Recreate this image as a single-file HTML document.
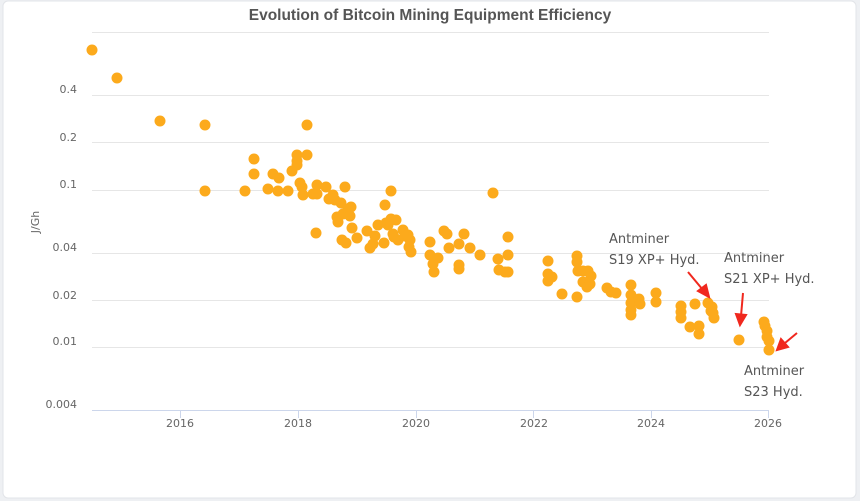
<!DOCTYPE html>
<html><head><meta charset="utf-8"><style>
html,body{margin:0;padding:0;background:#f3f4f6;}
svg{display:block;}
text{font-family:"DejaVu Sans","Liberation Sans",sans-serif;}
</style></head><body>
<svg width="860" height="501" viewBox="0 0 860 501">
<rect x="0" y="0" width="860" height="501" fill="#eef0f3"/>
<rect x="3" y="1" width="853" height="497" rx="5" fill="#fff" stroke="#e2e4e8"/>
<text x="430" y="20" text-anchor="middle" font-size="15.5" font-weight="bold" fill="#555" style="font-family:'Liberation Sans',sans-serif">Evolution of Bitcoin Mining Equipment Efficiency</text>
<g stroke="#e6e6e6" stroke-width="1">
<line x1="92" x2="769" y1="32.5" y2="32.5"/>
<line x1="92" x2="769" y1="95.5" y2="95.5"/>
<line x1="92" x2="769" y1="142.5" y2="142.5"/>
<line x1="92" x2="769" y1="190.5" y2="190.5"/>
<line x1="92" x2="769" y1="253.5" y2="253.5"/>
<line x1="92" x2="769" y1="300.5" y2="300.5"/>
<line x1="92" x2="769" y1="347.5" y2="347.5"/>
</g>
<line x1="92" x2="769" y1="410.5" y2="410.5" stroke="#ccd6eb"/>
<g stroke="#ccd6eb"><line x1="180.5" x2="180.5" y1="410" y2="418"/><line x1="298.5" x2="298.5" y1="410" y2="418"/><line x1="416.5" x2="416.5" y1="410" y2="418"/><line x1="533.5" x2="533.5" y1="410" y2="418"/><line x1="651.5" x2="651.5" y1="410" y2="418"/><line x1="768.5" x2="768.5" y1="410" y2="418"/></g>
<g font-size="11" fill="#666" text-anchor="end">
<text x="77" y="93">0.4</text><text x="77" y="141">0.2</text><text x="77" y="188">0.1</text>
<text x="77" y="251">0.04</text><text x="77" y="299">0.02</text><text x="77" y="345">0.01</text><text x="77" y="408">0.004</text>
</g>
<g font-size="11" fill="#666" text-anchor="middle">
<text x="180" y="427">2016</text><text x="298" y="427">2018</text><text x="416" y="427">2020</text>
<text x="534" y="427">2022</text><text x="651" y="427">2024</text><text x="768" y="427">2026</text>
</g>
<text transform="translate(39,222) rotate(-90)" font-size="11" fill="#666" text-anchor="middle">J/Gh</text>
<g fill="#fcaa1c" id="d"></g>
<g font-size="13" fill="#555">
<text x="609" y="243">Antminer</text><text x="609" y="264">S19 XP+ Hyd.</text>
<text x="724" y="262">Antminer</text><text x="724" y="283">S21 XP+ Hyd.</text>
<text x="744" y="375">Antminer</text><text x="744" y="396">S23 Hyd.</text>
</g>
<g stroke="#f0281e" stroke-width="2" fill="#f0281e">
<line x1="688" y1="272" x2="703" y2="290"/><polygon points="709,297 698,291 706,285"/>
<line x1="743" y1="293" x2="741" y2="316"/><polygon points="740,325 736,314 746,315"/>
<line x1="797" y1="333" x2="785" y2="343"/><polygon points="777,350 781,339 788,347"/>
</g>
</svg>
<script>
var p=[[92,50],[117,78],[160,121],[205,125],[307,125],[205,191],[245,191],[254,159],[254,174],[268,189],[273,174],[279,178],[278,191],[288,191],[292,171],[297,155],[297,165],[297,161],[300,183],[302,187],[307,155],[303,195],[313,194],[317,185],[317,194],[316,233],[326,187],[329,199],[333,195],[335,200],[337,217],[338,222],[341,203],[342,240],[343,214],[346,243],[345,187],[348,209],[350,216],[351,207],[352,228],[357,238],[367,231],[370,248],[373,244],[375,236],[378,225],[384,243],[385,205],[386,223],[388,225],[391,191],[391,219],[393,234],[394,237],[396,220],[398,240],[403,230],[405,236],[409,247],[410,240],[408,235],[411,252],[430,242],[430,255],[433,264],[434,272],[438,258],[444,231],[447,234],[449,248],[459,244],[459,265],[459,269],[464,234],[470,248],[480,255],[493,193],[498,259],[499,270],[505,272],[508,272],[508,237],[508,255],[548,261],[548,274],[548,281],[552,277],[562,294],[577,256],[577,262],[578,271],[577,297],[583,271],[583,282],[587,287],[588,271],[590,284],[591,276],[607,288],[611,292],[616,293],[631,285],[631,295],[631,303],[631,310],[631,315],[639,299],[640,304],[656,293],[656,302],[681,306],[681,312],[681,318],[690,327],[695,304],[699,326],[699,334],[708,303],[711,311],[712,307],[713,313],[714,318],[739,340],[764,322],[765,326],[767,331],[767,337],[769,341],[769,350]];
var g=document.getElementById('d'),s='';
p.forEach(function(a){s+='<circle cx="'+a[0]+'" cy="'+a[1]+'" r="5.5"/>';});
g.innerHTML=s;
</script>
</body></html>
